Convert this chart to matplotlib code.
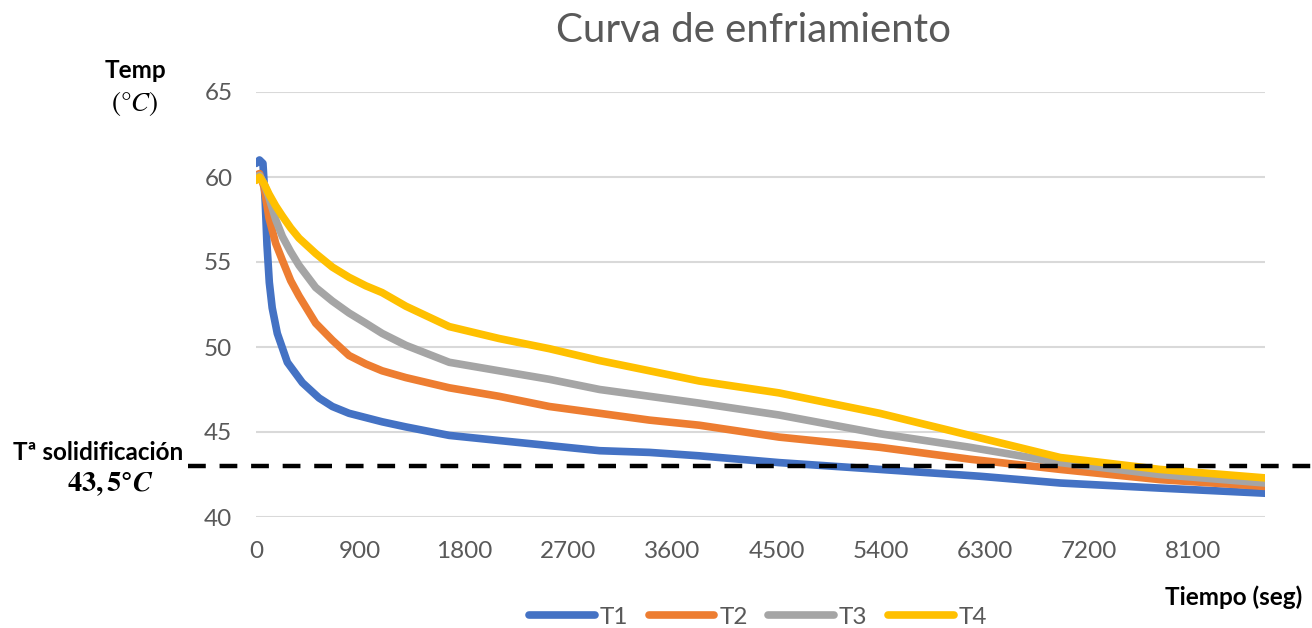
import matplotlib.pyplot as plt

plt.rcParams['font.family'] = ['Lato', 'DejaVu Sans']
plt.rcParams['mathtext.fontset'] = 'stix'

# lecturas (tiempo en s, temperatura en °C)
t1 = [0, 30, 60, 80, 95, 115, 140, 184, 271, 401, 545, 660, 804, 1090, 1295, 1670, 2100,
      2535, 2970, 3400, 3830, 4520, 5390, 6250, 6950, 7810, 8720]
T1 = [60.8, 61.0, 60.8, 58.5, 56.0, 53.8, 52.3, 50.8, 49.1, 47.9, 47.0, 46.5, 46.1, 45.6, 45.3, 44.8, 44.5,
      44.2, 43.9, 43.8, 43.6, 43.2, 42.8, 42.4, 42.0, 41.7, 41.4]

t = [0, 30, 70, 112, 170, 228, 300, 372, 516, 660, 804, 949, 1090, 1295, 1670, 2100,
     2535, 2970, 3400, 3830, 4520, 5390, 6170, 6950, 7810, 8720]
T2 = [60.1, 60.2, 59.4, 57.6, 56.1, 55.1, 53.9, 53.0, 51.4, 50.4, 49.5, 49.0, 48.6, 48.2, 47.6, 47.1,
      46.5, 46.1, 45.7, 45.4, 44.7, 44.1, 43.4, 42.8, 42.2, 41.8]
T3 = [60.0, 60.1, 59.6, 58.8, 57.5, 56.5, 55.6, 54.8, 53.5, 52.7, 52.0, 51.4, 50.8, 50.1, 49.1, 48.6,
      48.1, 47.5, 47.1, 46.7, 46.0, 44.9, 44.1, 43.2, 42.5, 42.0]
T4 = [59.8, 60.0, 59.6, 59.0, 58.3, 57.7, 57.0, 56.4, 55.5, 54.7, 54.1, 53.6, 53.2, 52.4, 51.2, 50.5,
      49.9, 49.2, 48.6, 48.0, 47.3, 46.1, 44.8, 43.5, 42.8, 42.3]

t_solid = 43.0
xticks = [0, 900, 1800, 2700, 3600, 4500, 5400, 6300, 7200, 8100]
yticks = [40, 45, 50, 55, 60, 65]

fig = plt.figure(figsize=(13.12, 6.28), dpi=100)
ax = fig.add_axes([256 / 1312, 1 - 517 / 628, 1009 / 1312, 425 / 628])

ax.plot(t1, T1, color="#4472C4", lw=5.5, label="T1", solid_capstyle="round")
ax.plot(t, T2, color="#ED7D31", lw=5.5, label="T2", solid_capstyle="round")
ax.plot(t, T3, color="#A5A5A5", lw=5.5, label="T3", solid_capstyle="round")
ax.plot(t, T4, color="#FFC000", lw=5.5, label="T4", solid_capstyle="round")

# linea de solidificacion, sale del area del grafico
ax.axhline(t_solid, xmin=-0.067, xmax=1.05, color="black", lw=3.2,
           dashes=(4.0, 3.1), clip_on=False, zorder=5)

ax.set_xlim(0, 8720)
ax.set_ylim(40, 65)
ax.set_xticks(xticks)
ax.set_yticks(yticks)
ax.tick_params(length=0, labelsize=17.5, labelcolor="#595959")
ax.tick_params(axis="x", pad=17)
ax.tick_params(axis="y", pad=17)
ax.grid(axis="y", color="#d9d9d9", lw=1.5)
ax.set_axisbelow(True)
for s in ax.spines.values():
    s.set_visible(False)

fig.text(754 / 1312, 1 - 30 / 628, "Curva de enfriamiento", ha="center", va="center",
         fontsize=29, color="#595959")

fig.text(135 / 1312, 1 - 70 / 628, "Temp", ha="center", va="center", fontsize=17.5, fontweight="bold")
fig.text(135 / 1312, 1 - 103 / 628, r"$(°\mathit{C})$", ha="center", va="center", fontsize=19.5)
fig.text(98 / 1312, 1 - 452 / 628, "Tª solidificación", ha="center", va="center", fontsize=17.5, fontweight="bold")
fig.text(110 / 1312, 1 - 484 / 628, r"$\mathbf{43,5°}\boldsymbol{C}$", ha="center", va="center", fontsize=20.5)
fig.text(1234 / 1312, 1 - 597 / 628, "Tiempo (seg)", ha="center", va="center", fontsize=17.5, fontweight="bold")

fig.legend(loc="center", bbox_to_anchor=(758 / 1312, 1 - 617 / 628), ncol=4, frameon=False,
           fontsize=17.5, handlelength=2.7, handletextpad=0.2, columnspacing=0.85,
           labelcolor="#595959")

fig.savefig("out.png", dpi=100)
